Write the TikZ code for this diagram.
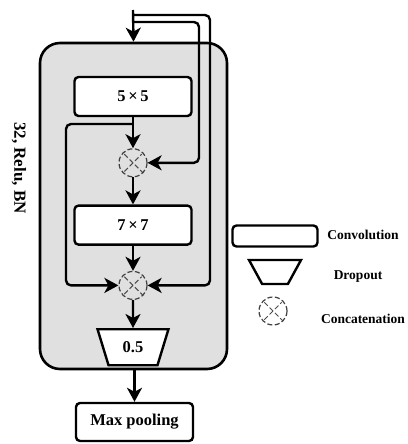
\documentclass[tikz,border=0pt]{standalone}
\usepackage{fontspec}
\setmainfont{Liberation Serif}
\usepackage{tikz}
\usetikzlibrary{arrows.meta, positioning, shapes.geometric, backgrounds}

\begin{document}
\begin{tikzpicture}[x=1pt, y=-1pt, font=\bfseries,
        line width=2.4pt,
        conv/.style={draw, rounded corners=4pt, fill=white, minimum width=117pt,
                     minimum height=39pt, inner sep=0pt, font=\fontsize{16.5}{18}\bfseries},
        drop/.style={draw, trapezium, shape border rotate=180, trapezium stretches=true,
                     trapezium left angle=70, trapezium right angle=70, fill=white,
                     minimum width=71pt, minimum height=36pt, inner sep=2pt,
                     font=\fontsize{16.5}{18}\bfseries},
        cat/.style={circle, draw=black!75, line width=1.2pt, dash pattern=on 5pt off 2.5pt,
                    minimum size=28pt, inner sep=0pt,
                    path picture={\draw[black!70, line width=1pt, shorten <=7.5pt, shorten >=7.5pt]
                      (path picture bounding box.north west) -- (path picture bounding box.south east)
                      (path picture bounding box.south west) -- (path picture bounding box.north east);}},
        legend/.style={font=\fontsize{13.5}{16}\bfseries},
        flow/.style={-{Stealth[length=14pt, width=15pt, inset=4pt]}, rounded corners=5pt}]
      \useasboundingbox (0,0) rectangle (407,444);
      % main column
      \node[conv] (conv5) at (133,96.5) {5\,×\,5};
      \node[cat, below=31pt of conv5] (cat1) {};
      \node[conv, below=27pt of cat1] (conv7) {7\,×\,7};
      \node[cat, below=25pt of conv7] (cat2) {};
      \node[drop, below=28pt of cat2] (drop) {0.5};
      \node[conv, minimum height=38pt] (pool) at (134.5,422) {Max pooling};
      \node[rotate=-90, font=\fontsize{17}{20}\bfseries] (lbl) at (19,168) {32, Relu, BN};
      \begin{scope}[on background layer]
        \node[draw, fill=black!12, rounded corners=20pt, line width=2.6pt,
              minimum width=187pt, minimum height=326pt] (cell) at (133.5,206) {};
      \end{scope}
      % input and skips
      \coordinate (in) at (133,10);
      \coordinate (rtop) at (210,15);
      \coordinate (rin) at (199,22);
      \coordinate (lsk) at (66,124);
      \draw[flow] (in) -- (cell.north);
      \draw[flow] (in |- rtop) -- (rtop) |- (cat2);
      \draw[flow] (in |- rin) -- (rin) |- (cat1);
      \draw[flow] (conv5.south |- lsk) -- (lsk) |- (cat2);
      \draw[flow] (conv5) -- (cat1);
      \draw[flow] (cat1) -- (conv7);
      \draw[flow] (conv7) -- (cat2);
      \draw[flow] (cat2) -- (drop);
      \draw[flow] (cell.south -| pool) -- (pool);
      % legend
      \node[conv, minimum width=85pt, minimum height=21pt] (lconv) at (275,236) {};
      \node[drop, minimum width=52pt, minimum height=24pt,
            trapezium left angle=63, trapezium right angle=63] (ldrop) at (275,272) {};
      \node[cat, fill=white] (lcat) at (273,311) {};
      \node[legend] (tconv) at (363,235) {Convolution};
      \node[legend] (tdrop) at (358,277) {Dropout};
      \node[legend] (tcat) at (363,319) {Concatenation};
    \end{tikzpicture}
\end{document}
